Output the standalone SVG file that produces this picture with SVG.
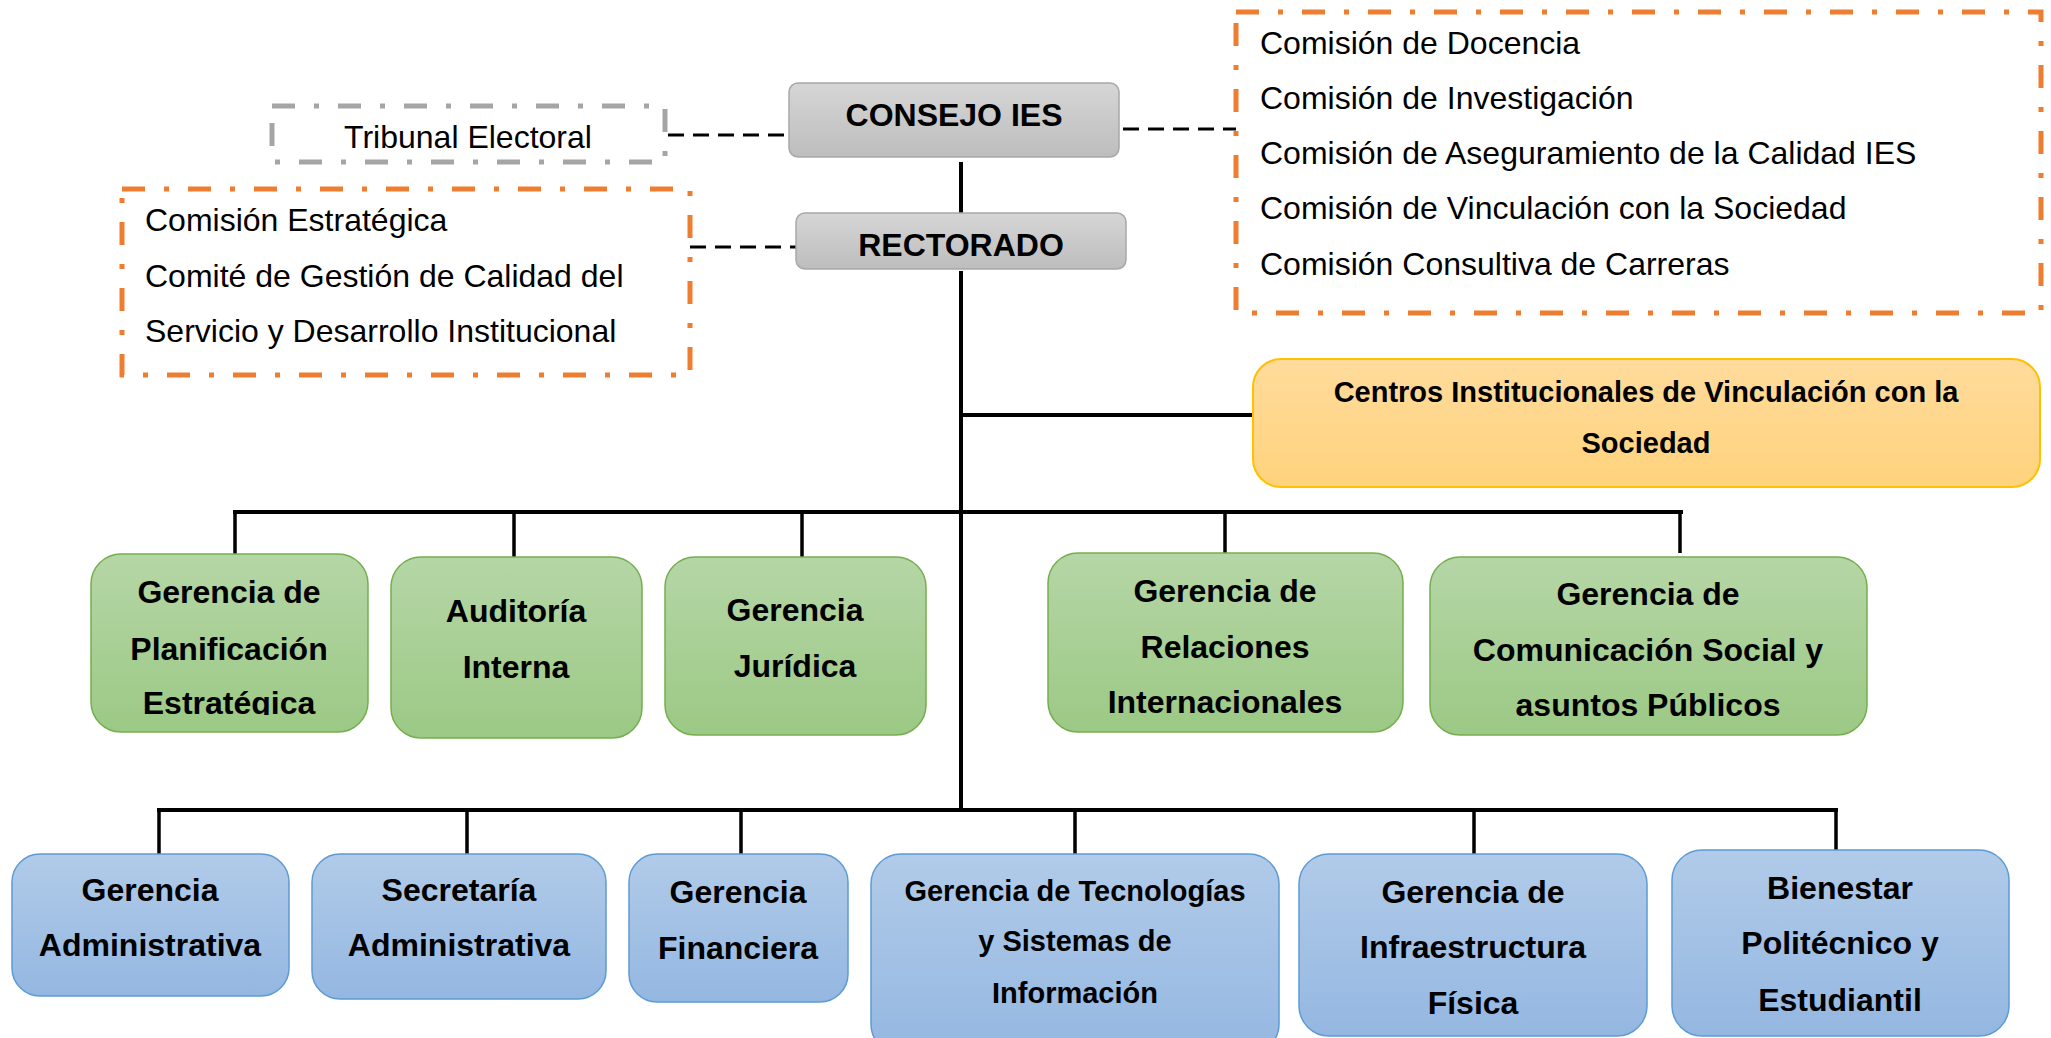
<svg xmlns="http://www.w3.org/2000/svg" width="2051" height="1038" viewBox="0 0 2051 1038">
<defs>
<linearGradient id="gGray" x1="0" y1="0" x2="0" y2="1"><stop offset="0" stop-color="#D6D6D6"/><stop offset="1" stop-color="#BDBDBD"/></linearGradient>
<linearGradient id="gGreen" x1="0" y1="0" x2="0" y2="1"><stop offset="0" stop-color="#B5D6A6"/><stop offset="1" stop-color="#9CC985"/></linearGradient>
<linearGradient id="gBlue" x1="0" y1="0" x2="0" y2="1"><stop offset="0" stop-color="#B1CBE9"/><stop offset="1" stop-color="#94B7E1"/></linearGradient>
<linearGradient id="gOrange" x1="0" y1="0" x2="0" y2="1"><stop offset="0" stop-color="#FFDB9C"/><stop offset="1" stop-color="#FFD37D"/></linearGradient>
<clipPath id="clipPlan"><rect x="80" y="540" width="300" height="175"/></clipPath>
</defs>
<style>
text{font-family:"Liberation Sans",Arial,Helvetica,sans-serif;fill:#000}
.b{font-weight:bold;font-size:32px;text-anchor:middle}
.bs{font-weight:bold;font-size:29px;text-anchor:middle}
.r{font-size:32px}
.gray{fill:url(#gGray);stroke:#A8A8A8;stroke-width:1.5}
.green{fill:url(#gGreen);stroke:#74AE4E;stroke-width:1.5}
.blue{fill:url(#gBlue);stroke:#5E9BD4;stroke-width:1.5}
.orange{fill:url(#gOrange);stroke:#FFC000;stroke-width:2}
.dd{fill:none;stroke-width:5;stroke-dasharray:23 19 5 19}
.line{stroke:#000;stroke-width:4;fill:none}
.drop{stroke:#000;stroke-width:3.5;fill:none}
.dash{stroke:#000;stroke-width:3;stroke-dasharray:16 9;fill:none}
</style>

<g id="connectors">
<line class="dash" x1="668" y1="135" x2="789" y2="135"/>
<line class="dash" x1="690" y1="247" x2="796" y2="247"/>
<line class="dash" x1="1123" y1="129" x2="1236" y2="129"/>
<line class="line" x1="961" y1="162" x2="961" y2="213"/>
<line class="line" x1="961" y1="271" x2="961" y2="812"/>
<line class="line" x1="961" y1="415" x2="1253" y2="415"/>
<line class="line" x1="233" y1="512" x2="1683" y2="512"/>
<line class="drop" x1="235" y1="512" x2="235" y2="554"/>
<line class="drop" x1="514" y1="512" x2="514" y2="557"/>
<line class="drop" x1="802" y1="512" x2="802" y2="557"/>
<line class="drop" x1="1225" y1="512" x2="1225" y2="553"/>
<line class="drop" x1="1680" y1="512" x2="1680" y2="553"/>
<line class="line" x1="157" y1="810" x2="1838" y2="810"/>
<line class="drop" x1="159" y1="810" x2="159" y2="854"/>
<line class="drop" x1="467" y1="810" x2="467" y2="854"/>
<line class="drop" x1="741" y1="810" x2="741" y2="854"/>
<line class="drop" x1="1075" y1="810" x2="1075" y2="854"/>
<line class="drop" x1="1474" y1="810" x2="1474" y2="854"/>
<line class="drop" x1="1836" y1="810" x2="1836" y2="850"/>
</g>

<g id="tribunal">
<rect class="dd" x="272" y="106" width="393" height="56" stroke="#A5A5A5"/>
<text class="r" x="468" y="148" text-anchor="middle">Tribunal Electoral</text>
</g>

<g id="consejo">
<rect class="gray" x="789" y="83" width="330" height="74" rx="9"/>
<text class="b" x="954" y="126">CONSEJO IES</text>
</g>

<g id="rectorado">
<rect class="gray" x="796" y="213" width="330" height="56" rx="9"/>
<text class="b" x="961" y="256">RECTORADO</text>
</g>

<g id="comisiones-rectorado">
<rect class="dd" x="122" y="189" width="568" height="186" stroke="#ED7D31"/>
<text class="r" x="145" y="231">Comisión Estratégica</text>
<text class="r" x="145" y="287">Comité de Gestión de Calidad del</text>
<text class="r" x="145" y="342">Servicio y Desarrollo Institucional</text>
</g>

<g id="comisiones-consejo">
<rect class="dd" x="1236" y="12" width="805" height="301" stroke="#ED7D31"/>
<text class="r" x="1260" y="54">Comisión de Docencia</text>
<text class="r" x="1260" y="109">Comisión de Investigación</text>
<text class="r" x="1260" y="164">Comisión de Aseguramiento de la Calidad IES</text>
<text class="r" x="1260" y="219">Comisión de Vinculación con la Sociedad</text>
<text class="r" x="1260" y="275">Comisión Consultiva de Carreras</text>
</g>

<g id="centros">
<rect class="orange" x="1253" y="359" width="787" height="128" rx="28"/>
<text class="bs" x="1646" y="402">Centros Institucionales de Vinculación con la</text>
<text class="bs" x="1646" y="453">Sociedad</text>
</g>

<g id="planificacion">
<rect class="green" x="91" y="554" width="277" height="178" rx="30"/>
<g clip-path="url(#clipPlan)">
<text class="b" x="229" y="603">Gerencia de</text>
<text class="b" x="229" y="660">Planificación</text>
<text class="b" x="229" y="714">Estratégica</text>
</g>
</g>

<g id="auditoria">
<rect class="green" x="391" y="557" width="251" height="181" rx="30"/>
<text class="b" x="516" y="622">Auditoría</text>
<text class="b" x="516" y="678">Interna</text>
</g>

<g id="juridica">
<rect class="green" x="665" y="557" width="261" height="178" rx="30"/>
<text class="b" x="795" y="621">Gerencia</text>
<text class="b" x="795" y="677">Jurídica</text>
</g>

<g id="relaciones">
<rect class="green" x="1048" y="553" width="355" height="179" rx="30"/>
<text class="b" x="1225" y="602">Gerencia de</text>
<text class="b" x="1225" y="658">Relaciones</text>
<text class="b" x="1225" y="713">Internacionales</text>
</g>

<g id="comunicacion">
<rect class="green" x="1430" y="557" width="437" height="178" rx="30"/>
<text class="b" x="1648" y="605">Gerencia de</text>
<text class="b" x="1648" y="661">Comunicación Social y</text>
<text class="b" x="1648" y="716">asuntos Públicos</text>
</g>

<g id="administrativa">
<rect class="blue" x="12" y="854" width="277" height="142" rx="28"/>
<text class="b" x="150" y="901">Gerencia</text>
<text class="b" x="150" y="956">Administrativa</text>
</g>

<g id="secretaria">
<rect class="blue" x="312" y="854" width="294" height="145" rx="28"/>
<text class="b" x="459" y="901">Secretaría</text>
<text class="b" x="459" y="956">Administrativa</text>
</g>

<g id="financiera">
<rect class="blue" x="629" y="854" width="219" height="148" rx="28"/>
<text class="b" x="738" y="903">Gerencia</text>
<text class="b" x="738" y="959">Financiera</text>
</g>

<g id="tecnologias">
<rect class="blue" x="871" y="854" width="408" height="200" rx="30"/>
<text class="bs" x="1075" y="901">Gerencia de Tecnologías</text>
<text class="bs" x="1075" y="951">y Sistemas de</text>
<text class="bs" x="1075" y="1003">Información</text>
</g>

<g id="infraestructura">
<rect class="blue" x="1299" y="854" width="348" height="182" rx="30"/>
<text class="b" x="1473" y="903">Gerencia de</text>
<text class="b" x="1473" y="958">Infraestructura</text>
<text class="b" x="1473" y="1014">Física</text>
</g>

<g id="bienestar">
<rect class="blue" x="1672" y="850" width="337" height="186" rx="30"/>
<text class="b" x="1840" y="899">Bienestar</text>
<text class="b" x="1840" y="954">Politécnico y</text>
<text class="b" x="1840" y="1011">Estudiantil</text>
</g>
</svg>
